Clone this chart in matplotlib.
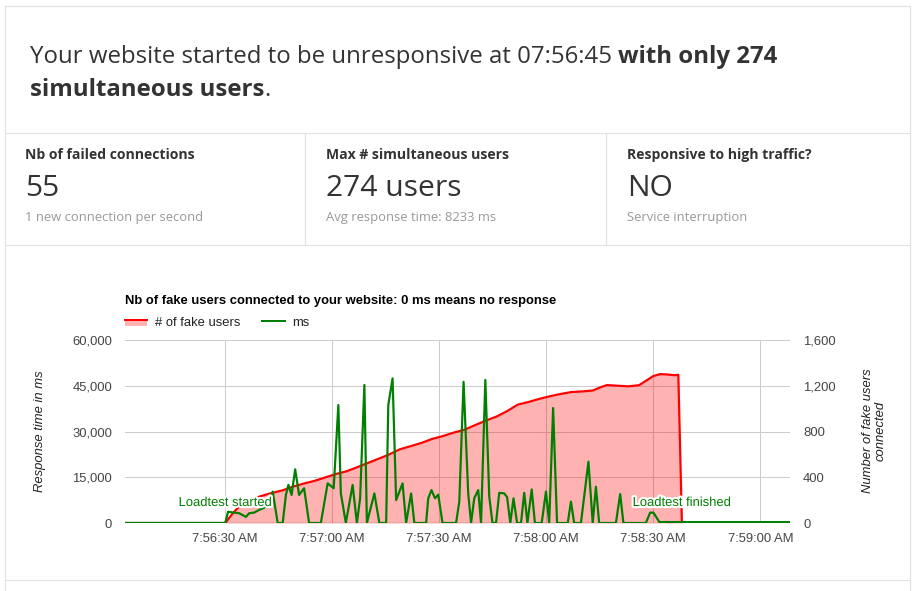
import matplotlib
matplotlib.use("Agg")
import matplotlib.pyplot as plt
import matplotlib.patheffects as pe
from matplotlib.lines import Line2D
from matplotlib.patches import Rectangle
from matplotlib.ticker import FuncFormatter

# ---------------- data (seconds after 07:56:00) ----------------
user_t = [2, 30, 31, 32, 33, 34, 36, 38, 40, 43, 46, 49, 52, 55, 58, 61, 64, 67, 70,
          73, 76, 79, 82, 85, 88, 91, 94, 97, 100, 103, 106, 109, 112, 115, 118, 121,
          124, 127, 130, 133, 135, 137, 140, 143, 146, 148, 150, 152, 154, 156, 157,
          158, 188]
users = [0, 0, 40, 80, 115, 145, 185, 215, 235, 262, 285, 318, 345, 368, 398, 428,
         452, 488, 525, 562, 600, 645, 672, 700, 735, 760, 790, 815, 855, 895, 930,
         978, 1035, 1058, 1085, 1108, 1128, 1145, 1150, 1158, 1185, 1206, 1200, 1195,
         1205, 1245, 1285, 1302, 1298, 1292, 1296, 0, 0]

ms_t = [2, 30, 30.8, 32.5, 33.9, 35.8, 36.7, 38.1, 39.5, 40.9, 42.3, 43.3, 44.7, 46.1,
        47.0, 47.7, 48.6, 49.6, 50.7, 52.1, 53.5, 56.8, 58.7, 60.4, 61.7, 62.4, 63.8,
        65.7, 66.9, 67.8, 69.0, 69.7, 71.8, 73.2, 75.1, 75.7, 76.9, 77.9, 79.7, 80.7,
        82.1, 83.0, 86.3, 86.9, 87.8, 88.8, 89.7, 90.9, 94.7, 95.6, 96.8, 98.1, 98.9,
        99.8, 100.9, 101.7, 102.9, 104.0, 104.9, 105.9, 106.8, 108.2, 109.0, 109.9,
        110.8, 111.8, 112.9, 113.8, 114.7, 115.9, 116.8, 118.7, 119.9, 120.8, 121.9,
        123.0, 126.0, 126.9, 127.8, 129.7, 131.8, 133.0, 133.9, 134.8, 139.5, 140.7,
        141.6, 147.9, 149.1, 150.0, 151.7, 188]
ms = [0, 0, 3700, 3400, 3200, 2000, 3200, 3400, 4300, 5000, 6500, 10300, 0, 0,
      9200, 12500, 9200, 17600, 9200, 11400, 0, 0, 13000, 11400, 38700, 9700, 0,
      12500, 0, 8100, 45250, 0, 9700, 0, 0, 38700, 47400, 7500, 13000, 0,
      9700, 0, 0, 8100, 10800, 8100, 9300, 0, 0, 7000, 46300, 9700, 0,
      8100, 10800, 0, 46900, 8700, 0, 0, 9900, 9700, 8500, 0,
      8100, 0, 0, 9900, 0, 11000, 0, 0, 10300, 0, 37700,
      0, 0, 7000, 0, 0, 20100, 0, 11900, 0, 0, 9500,
      0, 0, 3400, 3400, 300, 300]

x_ticks = [30, 60, 90, 120, 150, 180]
x_tick_labels = ["7:56:30 AM", "7:57:00 AM", "7:57:30 AM", "7:58:00 AM",
                 "7:58:30 AM", "7:59:00 AM"]
ms_ticks = [0, 15000, 30000, 45000, 60000]
user_ticks = [0, 400, 800, 1200, 1600]
start_t, finish_t = 30, 158

# ---------------- figure ----------------
W, H, DPI = 916, 591, 100
fig = plt.figure(figsize=(W / DPI, H / DPI), dpi=DPI)
fig.patch.set_facecolor("white")
PT = 72.0 / DPI  # points per pixel


def fx(px):
    return px / W


def fy(py):
    return 1 - py / H


def hline(y, x0=5, x1=910, c="#e2e2e2"):
    fig.add_artist(Line2D([fx(x0), fx(x1)], [fy(y), fy(y)], color=c, lw=1.2 * PT))


def vline(x, y0, y1, c="#e2e2e2"):
    fig.add_artist(Line2D([fx(x), fx(x)], [fy(y0), fy(y1)], color=c, lw=1.2 * PT))


# borders
hline(6)
hline(133)
hline(245)
hline(580)
vline(5, 6, 591)
vline(910, 6, 591)
vline(305, 133, 245)
vline(606, 133, 245)

OPEN = "Open Sans"
renderer = fig.canvas.get_renderer()


def space_width(size, weight):
    a = fig.text(0, 0, "xx", fontsize=size, fontweight=weight, family=OPEN)
    b = fig.text(0, 0, "x x", fontsize=size, fontweight=weight, family=OPEN)
    w = b.get_window_extent(renderer).width - a.get_window_extent(renderer).width
    a.remove()
    b.remove()
    return w


def runs(x, y, parts, size, color="#333333"):
    cx = x
    for txt, weight, space_after in parts:
        t = fig.text(fx(cx), fy(y), txt, fontsize=size, fontweight=weight,
                     family=OPEN, color=color, va="baseline", ha="left")
        cx += t.get_window_extent(renderer).width
        if space_after:
            cx += space_width(size, weight)


hs = 24 * PT
runs(30, 63, [("Your website started to be unresponsive at 07:56:45", "normal", True),
              ("with only 274", "bold", False)], hs)
runs(30, 96, [("simultaneous users", "bold", False), (".", "normal", False)], hs)

cards = [(25, "Nb of failed connections", "55", "1 new connection per second"),
         (326, "Max # simultaneous users", "274 users", "Avg response time: 8233 ms"),
         (627, "Responsive to high traffic?", "NO", "Service interruption")]
for cx, title, big, sub in cards:
    fig.text(fx(cx), fy(159), title, fontsize=14 * PT, fontweight="bold", family=OPEN,
             color="#333333", va="baseline")
    fig.text(fx(cx), fy(196), big, fontsize=30 * PT, family=OPEN, color="#333333",
             va="baseline")
    fig.text(fx(cx), fy(221), sub, fontsize=13 * PT, family=OPEN, color="#999999",
             va="baseline")

# ---------------- chart ----------------
ARIAL = "Liberation Sans"
FS = 13 * PT
L, R, T, B = 125, 790, 340, 523
ax = fig.add_axes([fx(L), fy(B), (R - L) / W, (B - T) / H])  # users (right axis)
ax2 = ax.twinx()  # ms (left axis)

ax.set_xlim(1.9, 188.3)
ax.set_ylim(0, 1600)
ax2.set_ylim(0, 60000)

ax.yaxis.tick_right()
ax2.yaxis.tick_left()
ax.set_yticks(user_ticks)
ax2.set_yticks(ms_ticks)
ax.set_xticks(x_ticks)
ax.set_xticklabels(x_tick_labels)
fmt = FuncFormatter(lambda v, p: f"{int(v):,}")
ax.yaxis.set_major_formatter(fmt)
ax2.yaxis.set_major_formatter(fmt)

for a in (ax, ax2):
    for s in a.spines.values():
        s.set_visible(False)
    a.tick_params(length=0, labelsize=FS, labelcolor="#444444")
    for lab in a.get_xticklabels() + a.get_yticklabels():
        lab.set_family(ARIAL)
ax.tick_params(axis="y", pad=13 * PT)
ax2.tick_params(axis="y", pad=13 * PT)
ax.tick_params(axis="x", pad=10 * PT)

ax.set_axisbelow(True)
ax.grid(True, color="#cccccc", lw=1.0 * PT)

ax.fill_between(user_t, users, 0, color="#ff0000", alpha=0.3, lw=0, zorder=1)
ax.plot(user_t, users, color="#ff0000", lw=2 * PT * 1.1, zorder=2,
        solid_joinstyle="round")
ax2.axhline(0, color="#333333", lw=1.2 * PT, zorder=1)
ax2.plot(ms_t, ms, color="#008000", lw=2 * PT * 1.1, zorder=3, solid_joinstyle="round")

halo = [pe.withStroke(linewidth=3, foreground="white")]
for t_, lab in ((start_t, "Loadtest started"), (finish_t, "Loadtest finished")):
    ax2.annotate(lab, xy=(t_, 0), xytext=(0, 20 * PT), textcoords="offset points",
                 ha="center", va="center", fontsize=FS, family=ARIAL, color="#008000",
                 path_effects=halo, zorder=5)

# axis titles
fig.text(fx(40), fy(431), "Response time in ms", rotation=90, ha="center", va="center",
         fontsize=FS, family=ARIAL, style="italic", color="#222222")
fig.text(fx(874), fy(431), "Number of fake users\nconnected", rotation=90, ha="center",
         va="center", multialignment="center", fontsize=FS, family=ARIAL, style="italic",
         color="#222222", linespacing=1.1)

# chart title
fig.text(fx(125), fy(304), "Nb of fake users connected to your website: 0 ms means no response",
         fontsize=FS, fontweight="bold", family=ARIAL, color="#000000", va="baseline")

# legend
fig.add_artist(Rectangle((fx(125), fy(326)), (147 - 125) / W, 6 / H, color="#ffb3b3", lw=0))
fig.add_artist(Line2D([fx(125), fx(147)], [fy(320), fy(320)], color="#ff0000", lw=2 * PT))
fig.text(fx(155), fy(326), "# of fake users", fontsize=FS, family=ARIAL, color="#222222",
         va="baseline")
fig.add_artist(Line2D([fx(262), fx(285)], [fy(320.5), fy(320.5)], color="#008000", lw=2 * PT))
fig.text(fx(292), fy(326), "ms", fontsize=FS, family=ARIAL, color="#222222", va="baseline")

fig.savefig("out.png", dpi=DPI, facecolor="white")
